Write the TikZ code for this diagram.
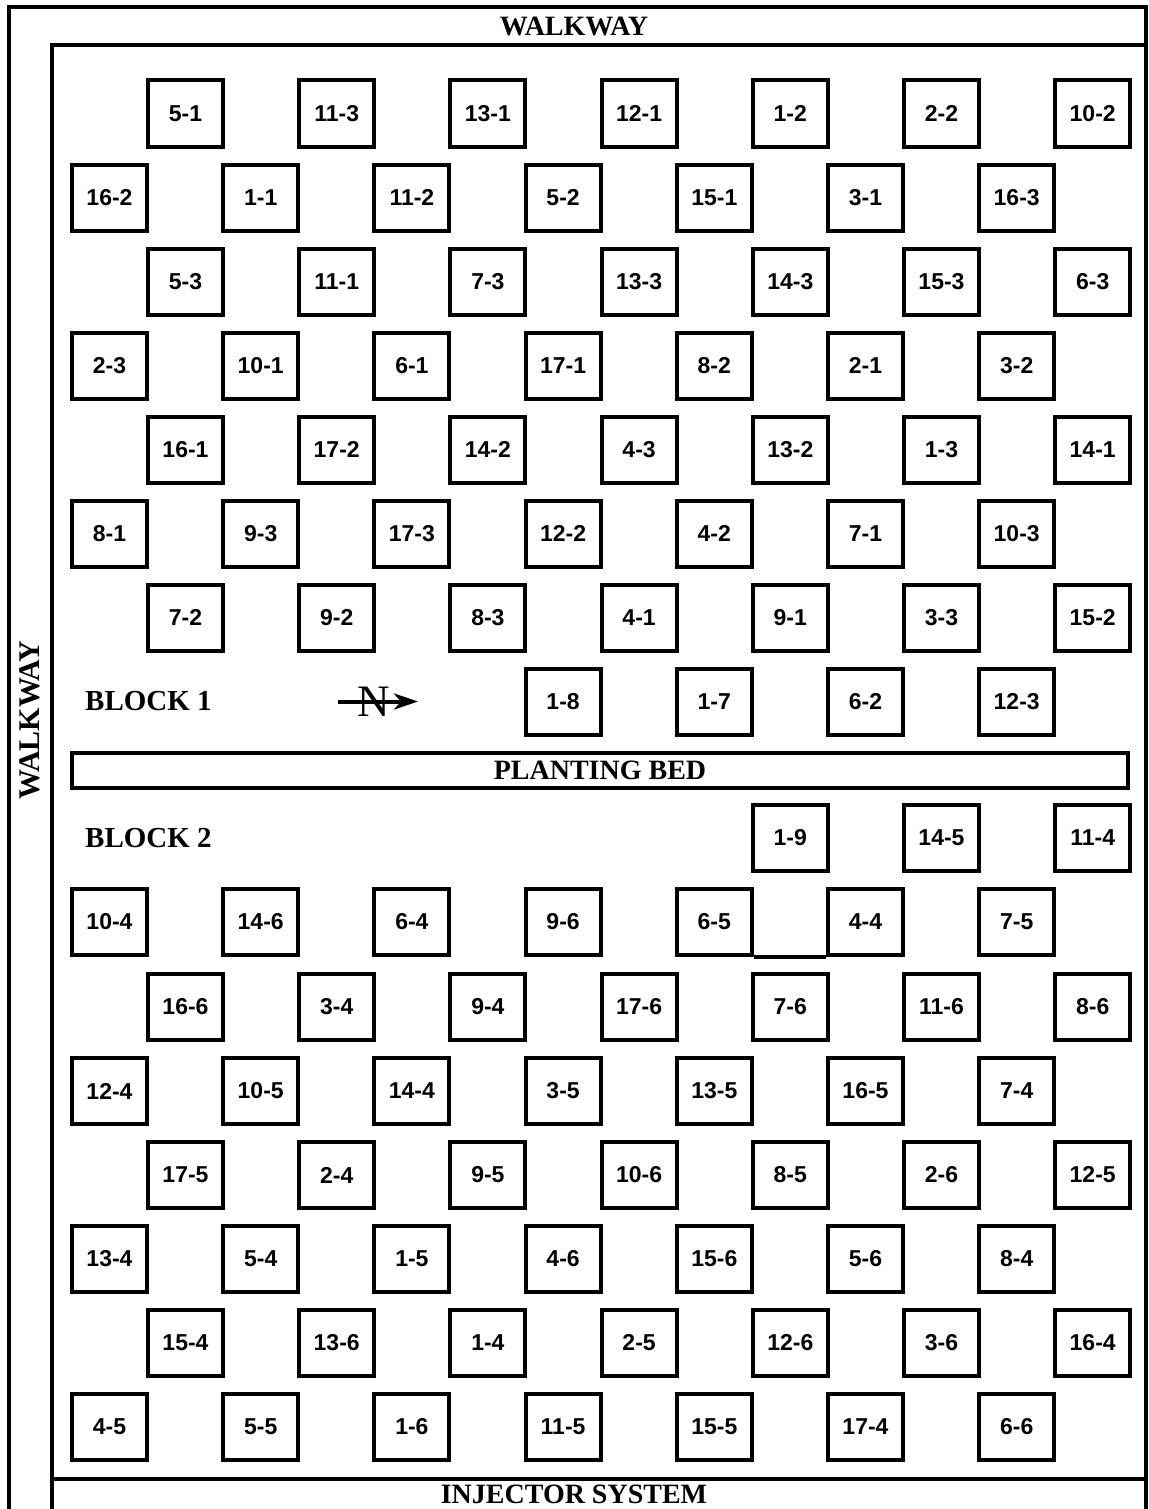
\documentclass[tikz,border=0pt]{standalone}
\usepackage{fontspec}
\setmainfont{Liberation Serif}
\setsansfont{Liberation Sans}
\usetikzlibrary{arrows.meta}
\begin{document}
\begin{tikzpicture}[x=1pt,y=-1pt,
  plotbox/.style={draw,line width=4pt,minimum width=75pt,minimum height=66pt,inner sep=0pt,
    font=\sffamily\bfseries\fontsize{23}{27}\selectfont},
  frameline/.style={line width=4pt},
  bandlabel/.style={inner sep=0pt,font=\rmfamily\bfseries\fontsize{28}{30}\selectfont},
  blocklabel/.style={inner sep=0pt,anchor=west,font=\rmfamily\bfseries\fontsize{29}{32}\selectfont}]
\useasboundingbox (0,0) rectangle (1148,1509);
% frames
\draw[frameline] (9,1509) -- (9,7) -- (1148,7);
\draw[frameline] (1146,7) -- (1146,1509);
\draw[frameline] (52,1509) -- (52,45) -- (1148,45);
\draw[frameline] (52,1478.5) -- (1148,1478.5);
\node[bandlabel] (wtop) at (574,26) {WALKWAY};
\node[bandlabel] (inj) at (574,1494) {INJECTOR SYSTEM};
\node[bandlabel,rotate=90,font=\rmfamily\bfseries\fontsize{30}{32}\selectfont] (wleft) at (30,720) {WALKWAY};
% planting bed
\node[draw,line width=4pt,minimum width=1056pt,minimum height=35pt,inner sep=0pt,
  font=\rmfamily\bfseries\fontsize{28}{30}\selectfont] (bed) at (600,770) {PLANTING BED};
\node[blocklabel] (blk1) at (85,701) {BLOCK 1};
\node[blocklabel] (blk2) at (85,838) {BLOCK 2};
% north arrow
\coordinate (na) at (338,701.5);
\coordinate (nb) at (418,701.5);
\draw[line width=4pt,-{Stealth[length=24pt,width=16pt,inset=7pt]}] (na) -- (nb);
\node[inner sep=0pt,font=\rmfamily\fontsize{45}{45}\selectfont] (north) at (374,702) {N};
% plots
\foreach \yy/\xx/\ss/\labs in {
  113.5/185.5/0/{5-1,11-3,13-1,12-1,1-2,2-2,10-2},
  197.5/109.5/0/{16-2,1-1,11-2,5-2,15-1,3-1,16-3},
  281.5/185.5/0/{5-3,11-1,7-3,13-3,14-3,15-3,6-3},
  365.5/109.5/0/{2-3,10-1,6-1,17-1,8-2,2-1,3-2},
  449.5/185.5/0/{16-1,17-2,14-2,4-3,13-2,1-3,14-1},
  533.5/109.5/0/{8-1,9-3,17-3,12-2,4-2,7-1,10-3},
  617.5/185.5/0/{7-2,9-2,8-3,4-1,9-1,3-3,15-2},
  701.5/109.5/3/{1-8,1-7,6-2,12-3},
  838/185.5/4/{1-9,14-5,11-4},
  922/109.5/0/{10-4,14-6,6-4,9-6,6-5,4-4,7-5},
  1006.5/185.5/0/{16-6,3-4,9-4,17-6,7-6,11-6,8-6},
  1091/109.5/0/{12-4,10-5,14-4,3-5,13-5,16-5,7-4},
  1175/185.5/0/{17-5,2-4,9-5,10-6,8-5,2-6,12-5},
  1259/109.5/0/{13-4,5-4,1-5,4-6,15-6,5-6,8-4},
  1343/185.5/0/{15-4,13-6,1-4,2-5,12-6,3-6,16-4},
  1427/109.5/0/{4-5,5-5,1-6,11-5,15-5,17-4,6-6}}{
  \foreach \l [count=\i from \ss] in \labs {
    \node[plotbox] (b\l) at ({\xx+151.2*\i},\yy) {\l};
  }
}
\draw[line width=4pt] (b6-5.south east) -- (b4-4.south west);
\end{tikzpicture}
\end{document}
